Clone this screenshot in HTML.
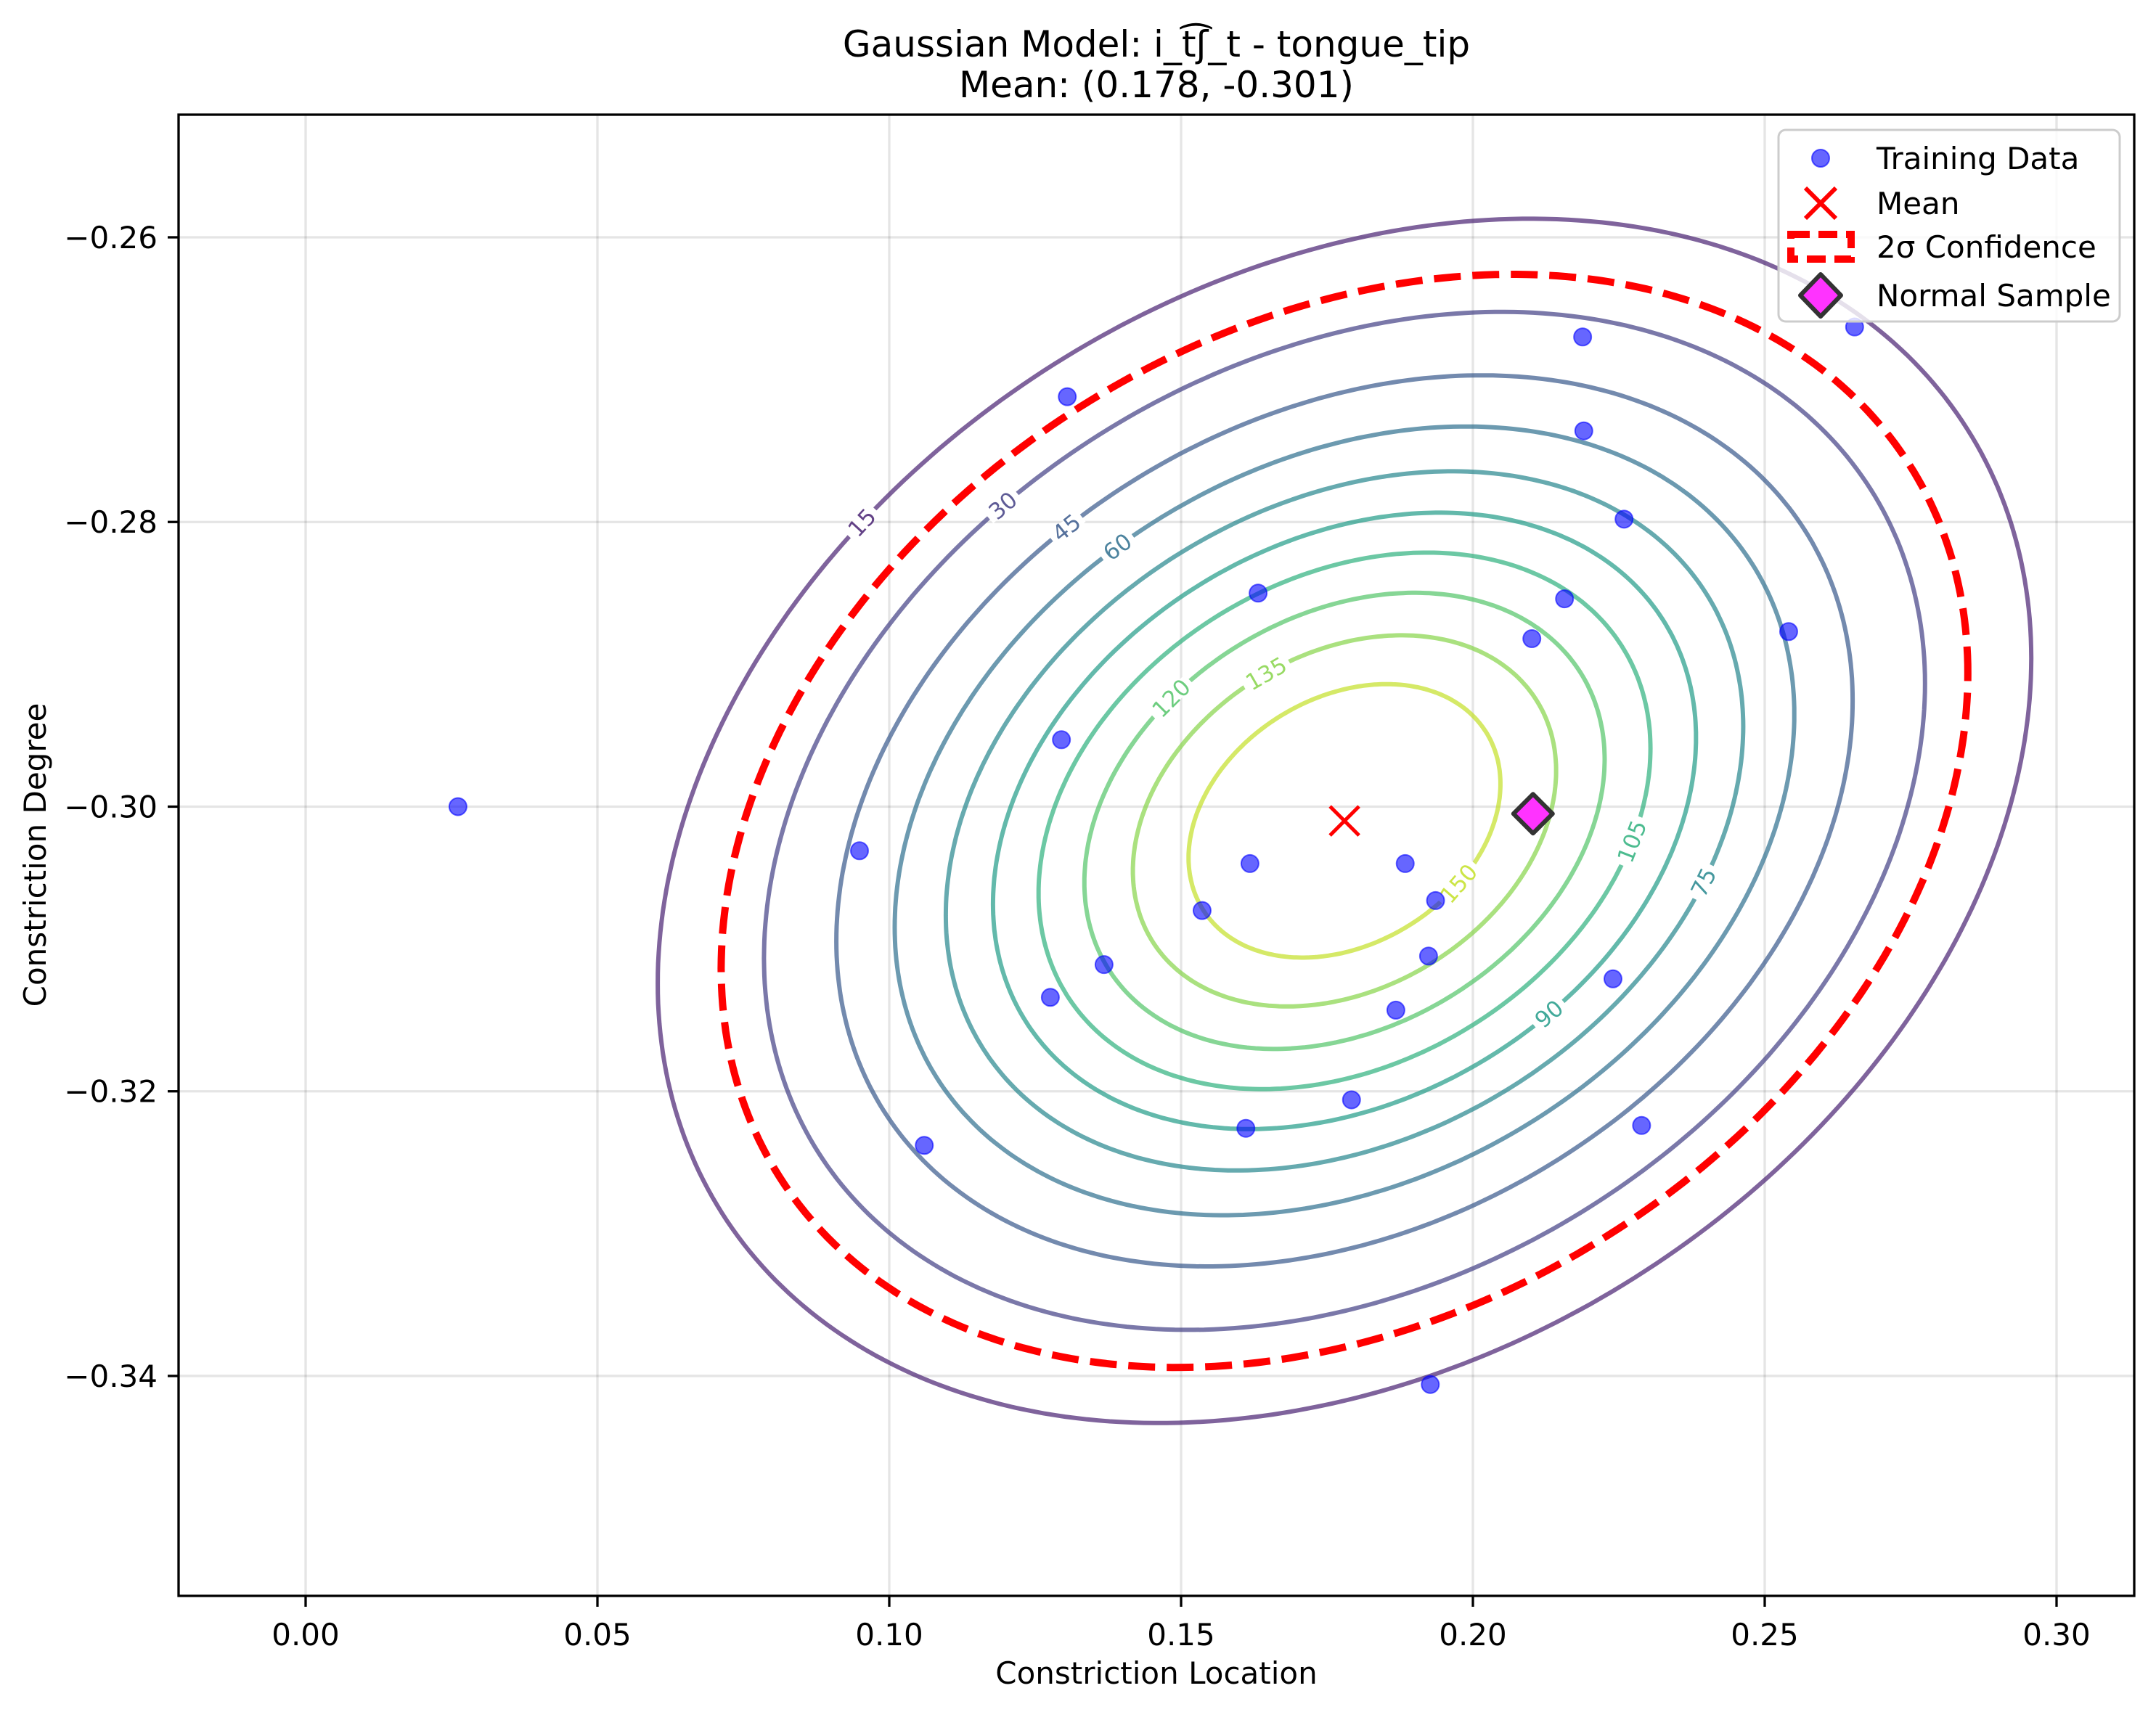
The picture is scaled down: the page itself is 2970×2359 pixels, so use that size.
<!DOCTYPE html>
<html><head><meta charset="utf-8"><style>
html,body{margin:0;padding:0;background:#fff;}
svg{display:block;font-family:"DejaVu Sans","Liberation Sans",sans-serif;}
</style></head><body>
<svg id="chart" width="2970" height="2359" viewBox="0 0 2970 2359" xmlns="http://www.w3.org/2000/svg">
<defs><clipPath id="clip"><rect x="246" y="158" width="2694" height="2041"/></clipPath></defs>
<rect x="0" y="0" width="2970" height="2359" fill="#fff"/>
<g id="grid"></g>
<g id="contours" clip-path="url(#clip)"></g>
<g id="points" clip-path="url(#clip)"></g>
<g id="axes"></g>
<text x="1593" y="78" font-size="50" text-anchor="middle">Gaussian Model: i_t͡ʃ_t - tongue_tip</text>
<text x="1593" y="134" font-size="50" text-anchor="middle">Mean: (0.178, -0.301)</text>
<text x="1593" y="2320" font-size="42" text-anchor="middle">Constriction Location</text>
<text x="0" y="0" font-size="42" text-anchor="middle" transform="translate(63,1178) rotate(-90)">Constriction Degree</text>
<g id="legend">
 <rect x="2450" y="179" width="470" height="264" rx="10" fill="#fff" fill-opacity="0.8" stroke="#ccc" stroke-width="3"/>
 <circle cx="2508" cy="218" r="12" fill="#0000ff" fill-opacity="0.6" stroke="#0000ff" stroke-opacity="0.6" stroke-width="2"/>
 <text x="2585" y="233" font-size="42">Training Data</text>
 <path d="M2487,259 L2529,301 M2529,259 L2487,301" stroke="#ff0000" stroke-width="6"/>
 <text x="2585" y="295" font-size="42">Mean</text>
 <rect x="2467" y="323" width="83" height="34" fill="none" stroke="#ff0000" stroke-width="10" stroke-dasharray="26,12"/>
 <text x="2585" y="355" font-size="42">2σ Confidence</text>
 <path d="M2508,378 L2536,407 L2508,436 L2480,407 Z" fill="#ff33ff" stroke="#333" stroke-width="6" stroke-linejoin="round"/>
 <text x="2585" y="422" font-size="42">Normal Sample</text>
</g>
</svg>
<script>
const xTicks = [0.00, 0.05, 0.10, 0.15, 0.20, 0.25, 0.30];
const xTickLabels = ["0.00", "0.05", "0.10", "0.15", "0.20", "0.25", "0.30"];
const yTicks = [-0.26, -0.28, -0.30, -0.32, -0.34];
const yTickLabels = ["\u22120.26", "\u22120.28", "\u22120.30", "\u22120.32", "\u22120.34"];
const trainX = [0.0261,0.0949,0.1060,0.1305,0.1295,0.1276,0.1368,0.1536,0.1618,0.1632,0.1611,0.1792,0.1868,0.1884,0.1936,0.1924,0.2101,0.2188,0.2190,0.2259,0.2157,0.2240,0.2289,0.2541,0.2654,0.1927];
const trainY = [-0.3000,-0.3031,-0.3238,-0.2712,-0.2953,-0.3134,-0.3111,-0.3073,-0.3040,-0.2850,-0.3226,-0.3206,-0.3143,-0.3040,-0.3066,-0.3105,-0.2882,-0.2670,-0.2736,-0.2798,-0.2854,-0.3121,-0.3224,-0.2877,-0.2663,-0.3406];
const meanXY = [0.178, -0.301];
const sigmaXY = [0.0534, 0.0192];
const rho = [0.27];
const peakDensity = [170];
const levels = [15,30,45,60,75,90,105,120,135,150];
const labelLevels = [15,30,45,60,120,135,150,105,90,75];
const labelAngles = [2.35,2.2,2.15,2.1,2.3,1.95,-0.75,-0.35,-0.95,-0.45];
const sampleXY = [0.2103, -0.3005];

const NS = "http://www.w3.org/2000/svg";
const X0 = 421, XS = 8040, Y0 = 327, YS = 19612;
function sx(v){ return X0 + v * XS; }
function sy(v){ return Y0 + (-0.26 - v) * YS; }
function mk(tag, attrs, parent){ const e = document.createElementNS(NS, tag); for (const k in attrs) e.setAttribute(k, attrs[k]); parent.appendChild(e); return e; }

const vir = ["#440154","#482475","#414487","#355f8d","#2a788e","#21918c","#22a884","#44bf70","#7ad151","#bddf26","#fde725"];
function hex(h){ return [parseInt(h.slice(1,3),16),parseInt(h.slice(3,5),16),parseInt(h.slice(5,7),16)]; }
function viridis(t){ t=Math.max(0,Math.min(1,t)); const f=t*10, i=Math.min(9,Math.floor(f)), u=f-i; const a=hex(vir[i]), b=hex(vir[i+1]); return "rgb("+a.map((c,k)=>Math.round(c+(b[k]-c)*u)).join(",")+")"; }

const grid = document.getElementById("grid"), axes = document.getElementById("axes");
xTicks.forEach((v,i)=>{
  const g = mk("line",{x1:sx(v),x2:sx(v),y1:158,y2:2199,stroke:"#000","stroke-opacity":0.1,"stroke-width":3.3},grid);
  
  
  const t = mk("line",{x1:sx(v),x2:sx(v),y1:2199,y2:2214,stroke:"#000","stroke-width":3.3},axes);
  
  
  const l = mk("text",{x:sx(v),y:2267,"font-size":42,"text-anchor":"middle"},axes);
  l.textContent = xTickLabels[i];
  
  
});
yTicks.forEach((v,i)=>{
  const g = mk("line",{x1:246,x2:2940,y1:sy(v),y2:sy(v),stroke:"#000","stroke-opacity":0.1,"stroke-width":3.3},grid);
  
  
  const t = mk("line",{x1:231,x2:246,y1:sy(v),y2:sy(v),stroke:"#000","stroke-width":3.3},axes);
  
  
  const l = mk("text",{x:217,y:sy(v)+15,"font-size":42,"text-anchor":"end"},axes);
  l.textContent = yTickLabels[i];
  
  
});
const frame = mk("rect",{x:246,y:158,width:2694,height:2041,fill:"none",stroke:"#000","stroke-width":3.3},axes);



const sX = sigmaXY[0], sY = sigmaXY[1], r = rho[0];
const peak = peakDensity[0];
function ellPt(d, th){
  const u = Math.cos(th), w = Math.sin(th);
  const dx = d*sX*u, dy = d*sY*(r*u + Math.sqrt(1-r*r)*w);
  return [sx(meanXY[0]+dx), sy(meanXY[1]+dy)];
}
function ellPath(d){
  let p = "";
  for (let k=0;k<=360;k++){ const q = ellPt(d, k/360*2*Math.PI); p += (k?"L":"M")+q[0].toFixed(1)+","+q[1].toFixed(1); }
  return p+"Z";
}
const cg = document.getElementById("contours");
const vmax = 165;
levels.forEach(L=>{
  if (L >= peak) return;
  const d = Math.sqrt(2*Math.log(peak/L));
  const e = mk("path",{d:ellPath(d),fill:"none",stroke:viridis(L/vmax),"stroke-opacity":0.7,"stroke-width":6},cg);
  
  
});
const conf = mk("path",{d:ellPath(2),fill:"none",stroke:"#ff0000","stroke-width":10,"stroke-dasharray":"37,16"},cg);


labelLevels.forEach((L,i)=>{
  if (L >= peak) return;
  const d = Math.sqrt(2*Math.log(peak/L));
  const th = labelAngles[i];
  const p = ellPt(d, th), p2 = ellPt(d, th+0.01);
  let ang = Math.atan2(p2[1]-p[1], p2[0]-p[0])*180/Math.PI;
  if (ang > 90) ang -= 180; if (ang < -90) ang += 180;
  const g = mk("g",{transform:"translate("+p[0].toFixed(1)+","+p[1].toFixed(1)+") rotate("+ang.toFixed(1)+")"},cg);
  
  
  const w = String(L).length*19+14;
  mk("rect",{x:-w/2,y:-10,width:w,height:20,fill:"#fff"},g);
  const t = mk("text",{x:0,y:11,"font-size":31,"text-anchor":"middle",fill:viridis(L/vmax),"fill-opacity":0.85},g);
  t.textContent = String(L);
});

const pg = document.getElementById("points");
trainX.forEach((v,i)=>{
  const c = mk("circle",{cx:sx(v),cy:sy(trainY[i]),r:12,fill:"#0000ff","fill-opacity":0.6,stroke:"#0000ff","stroke-opacity":0.6,"stroke-width":2},pg);
  
  
});
const mx = sx(meanXY[0]), my = sy(meanXY[1]);
const meanMark = mk("path",{d:"M"+(mx-20)+","+(my-20)+"L"+(mx+20)+","+(my+20)+"M"+(mx+20)+","+(my-20)+"L"+(mx-20)+","+(my+20),stroke:"#ff0000","stroke-width":5},pg);


const dx0 = sx(sampleXY[0]), dy0 = sy(sampleXY[1]);
const dia = mk("path",{d:"M"+dx0+","+(dy0-27)+"L"+(dx0+27)+","+dy0+"L"+dx0+","+(dy0+27)+"L"+(dx0-27)+","+dy0+"Z",fill:"#ff33ff",stroke:"#333","stroke-width":6,"stroke-linejoin":"round"},pg);


</script>
</body></html>
